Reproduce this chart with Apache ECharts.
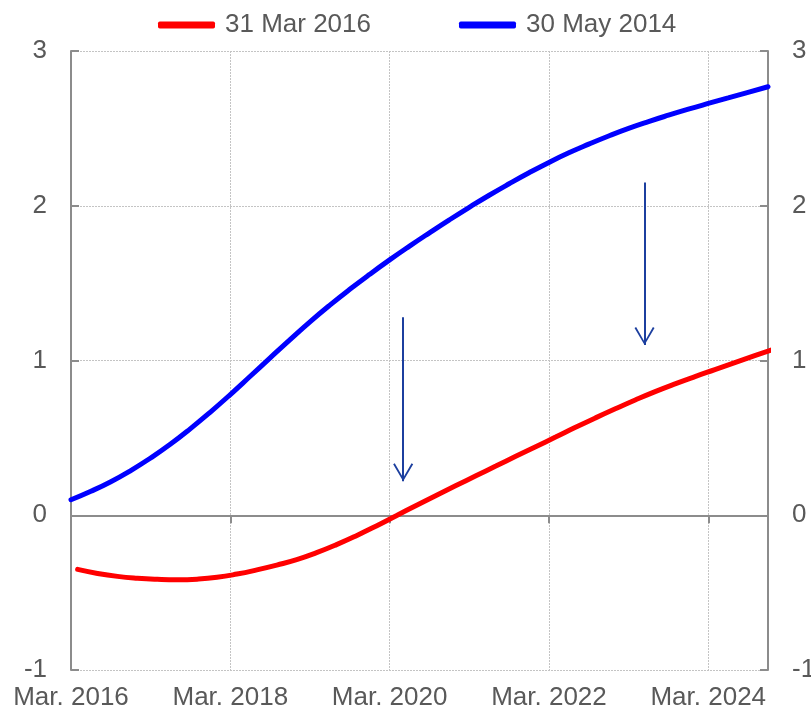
<!DOCTYPE html>
<html>
<head>
<meta charset="utf-8">
<script src="https://cdn.jsdelivr.net/npm/echarts@6/dist/echarts.min.js"></script>
<style>
  html, body { margin: 0; padding: 0; background: #fff; }
  #ec { width: 811px; height: 714px; }
</style>
</head>
<body>
<div id="ec"></div>
<script>
// dates are year-month, x axis counts years from Mar. 2016
var datesMar2016 = [
  "2016-04", "2016-07", "2016-10", "2017-01", "2017-04", "2017-07", "2017-10", "2018-01", "2018-04",
  "2018-07", "2018-10", "2019-01", "2019-04", "2019-07", "2019-10", "2020-01", "2020-04", "2020-07",
  "2020-10", "2021-01", "2021-04", "2021-07", "2021-10", "2022-01", "2022-04", "2022-07", "2022-10",
  "2023-01", "2023-04", "2023-07", "2023-10", "2024-01", "2024-04", "2024-07", "2024-10", "2025-01",
];
var valuesMar2016 = [
  -0.35, -0.376, -0.395, -0.407, -0.414, -0.417, -0.413, -0.401, -0.38,
  -0.353, -0.322, -0.287, -0.242, -0.19, -0.132, -0.069, -0.003, 0.063,
  0.128, 0.192, 0.255, 0.318, 0.381, 0.443, 0.505, 0.568, 0.629,
  0.688, 0.745, 0.799, 0.849, 0.896, 0.941, 0.986, 1.031, 1.075,
];

var datesMay2014 = [
  "2016-03", "2016-06", "2016-09", "2016-12", "2017-03", "2017-06", "2017-09", "2017-12", "2018-03",
  "2018-06", "2018-09", "2018-12", "2019-03", "2019-06", "2019-09", "2019-12", "2020-03", "2020-06",
  "2020-09", "2020-12", "2021-03", "2021-06", "2021-09", "2021-12", "2022-03", "2022-06", "2022-09",
  "2022-12", "2023-03", "2023-06", "2023-09", "2023-12", "2024-03", "2024-06", "2024-09", "2024-12",
];
var valuesMay2014 = [
  0.1, 0.155, 0.217, 0.289, 0.37, 0.46, 0.56, 0.667, 0.78,
  0.898, 1.017, 1.135, 1.25, 1.358, 1.46, 1.557, 1.65, 1.739,
  1.825, 1.909, 1.99, 2.068, 2.142, 2.213, 2.28, 2.342, 2.398,
  2.451, 2.5, 2.544, 2.585, 2.624, 2.661, 2.697, 2.733, 2.769,
];

var yTicks = [-1, 0, 1, 2, 3];

// arrows: x in years from Mar. 2016, from / to values
var arrowX = [4.17, 7.2];
var arrowFrom = [1.28, 2.15];
var arrowTo = [0.22, 1.1];

function toX(d) {
  var p = d.split("-").map(Number);
  return p[0] - 2016 + (p[1] - 3) / 12;
}
function pairs(dates, vals) {
  return dates.map(function (d, i) { return [toX(d), vals[i]]; });
}

var grey = "#595959";
var axisGrey = "#8c8c8c";
var font = "Liberation Sans, Arial, sans-serif";
var chevron = "path://M0,1 L1.6,0 L10,14.6 L18.4,0 L20,1 L10,18 Z";

var myChart = echarts.init(document.getElementById("ec"));
myChart.setOption({
  animation: false,
  textStyle: { fontFamily: font },
  legend: {
    left: 153,
    top: 7,
    itemWidth: 57,
    itemHeight: 7,
    itemGap: 88,
    icon: "roundRect",
    textStyle: { fontSize: 26, color: grey, padding: [0, 0, 0, 5] },
    data: ["31 Mar 2016", "30 May 2014"],
  },
  grid: { left: 71, right: 43, top: 51, bottom: 44, outerBoundsMode: "none" },
  xAxis: [
    {
      type: "value",
      position: "top",
      min: 0,
      max: 8.75,
      interval: 2,
      axisLine: { onZero: true, lineStyle: { color: axisGrey, width: 2 } },
      axisTick: { show: true, inside: true, length: 8, lineStyle: { color: axisGrey, width: 2 } },
      axisLabel: { show: false },
      splitLine: { show: true, lineStyle: { color: "#c4c4c4", type: [2, 1], width: 1 } },
    },
    {
      type: "value",
      position: "bottom",
      min: 0,
      max: 8.75,
      interval: 2,
      axisLine: { show: false, onZero: false },
      axisTick: { show: false },
      splitLine: { show: false },
      axisLabel: {
        show: true,
        showMaxLabel: false,
        margin: 15,
        fontSize: 26,
        color: grey,
        formatter: function (v) { return "Mar. " + (2016 + v); },
      },
    },
  ],
  yAxis: [
    {
      type: "value",
      position: "left",
      min: yTicks[0],
      max: yTicks[yTicks.length - 1],
      interval: 1,
      axisLine: { show: true, onZero: false, lineStyle: { color: axisGrey, width: 2 } },
      axisTick: { show: true, inside: true, length: 8, lineStyle: { color: axisGrey, width: 2 } },
      axisLabel: { margin: 24, fontSize: 26, color: grey },
      splitLine: { show: true, lineStyle: { color: "#c4c4c4", type: [2, 1], width: 1 } },
    },
    {
      type: "value",
      position: "right",
      min: yTicks[0],
      max: yTicks[yTicks.length - 1],
      interval: 1,
      axisLine: { show: true, onZero: false, lineStyle: { color: axisGrey, width: 2 } },
      axisTick: { show: true, inside: true, length: 8, lineStyle: { color: axisGrey, width: 2 } },
      axisLabel: { margin: 24, fontSize: 26, color: grey },
      splitLine: { show: false },
    },
  ],
  series: [
    {
      name: "31 Mar 2016",
      type: "line",
      smooth: true,
      symbol: "none",
      data: pairs(datesMar2016, valuesMar2016),
      lineStyle: { color: "#ff0000", width: 5, cap: "round" },
      itemStyle: { color: "#ff0000" },
      z: 3,
      markLine: {
        silent: true,
        symbol: ["none", "none"],
        label: { show: false },
        lineStyle: { color: "#1c3f9f", width: 2, type: "solid" },
        data: arrowX.map(function (x, i) {
          return [{ coord: [x, arrowFrom[i]] }, { coord: [x, arrowTo[i]] }];
        }),
      },
      markPoint: {
        silent: true,
        symbol: chevron,
        symbolSize: [20, 18],
        symbolOffset: [0, -9],
        label: { show: false },
        itemStyle: { color: "#1c3f9f" },
        data: arrowX.map(function (x, i) {
          return { coord: [x, arrowTo[i]] };
        }),
      },
    },
    {
      name: "30 May 2014",
      type: "line",
      smooth: true,
      symbol: "none",
      data: pairs(datesMay2014, valuesMay2014),
      lineStyle: { color: "#0000ff", width: 5, cap: "round" },
      itemStyle: { color: "#0000ff" },
      z: 3,
    },
  ],
});
</script>
</body>
</html>
